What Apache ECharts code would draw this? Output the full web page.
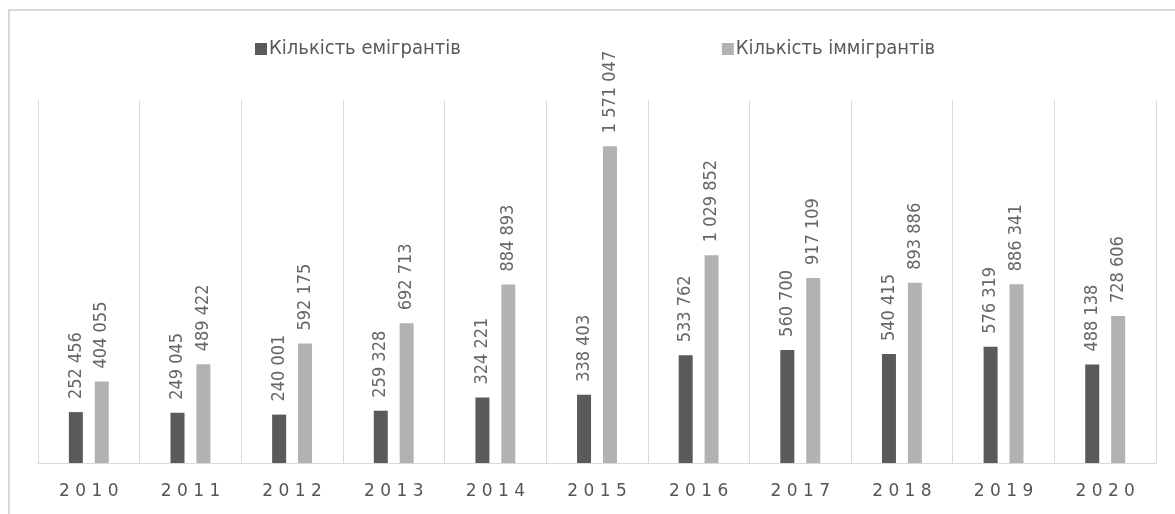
<!DOCTYPE html>
<html>
<head>
<meta charset="utf-8">
<script src="https://cdn.jsdelivr.net/npm/echarts@6/dist/echarts.min.js"></script>
<style>
  html, body { margin: 0; padding: 0; background: #fff; }
  #chart { width: 1175px; height: 514px; }
</style>
</head>
<body>
<div id="chart"></div>
<script>
// Data
const years = ['2010', '2011', '2012', '2013', '2014', '2015', '2016', '2017', '2018', '2019', '2020'];
const emigrants = [252456, 249045, 240001, 259328, 324221, 338403, 533762, 560700, 540415, 576319, 488138];
const immigrants = [404055, 489422, 592175, 692713, 884893, 1571047, 1029852, 917109, 893886, 886341, 728606];
const seriesNames = ['Кількість емігрантів', 'Кількість іммігрантів'];

const DARK = '#5a5a5a';
const LIGHT = '#b2b2b2';
const TEXT = '#595959';

// "1571047" -> "1 571 047"
const fmtNum = (v) => String(v).replace(/\B(?=(\d{3})+(?!\d))/g, ' ');

const chart = echarts.init(document.getElementById('chart'), null, { renderer: 'canvas' });

const barLabel = {
    show: true,
    position: 'top',
    rotate: 90,
    align: 'left',
    verticalAlign: 'middle',
    distance: 13,
    color: '#666',
    fontFamily: 'DejaVu Sans Condensed',
    fontSize: 18,
    formatter: (p) => fmtNum(p.value)
};

const option = {
    backgroundColor: '#fff',
    animation: false,
    graphic: [{
        type: 'rect',
        shape: { x: 9, y: 10, width: 1200, height: 600 },
        style: { fill: 'none', stroke: '#d9d9d9', lineWidth: 2 },
        silent: true
    }],
    legend: {
        top: 34,
        left: 250,
        itemGap: 261,
        itemWidth: 12,
        itemHeight: 12,
        icon: 'rect',
        textStyle: {
            color: TEXT,
            fontFamily: 'DejaVu Sans Condensed',
            fontSize: 20,
            padding: [0, 0, 0, -3]
        },
        data: seriesNames
    },
    grid: {
        left: 38,
        right: 19,
        top: 100,
        bottom: 51
    },
    xAxis: {
        type: 'category',
        data: years,
        axisLine: { lineStyle: { color: '#d9d9d9', width: 1 } },
        axisTick: { show: false },
        splitLine: { show: true, lineStyle: { color: '#d9d9d9', width: 1 } },
        axisLabel: {
            color: '#555',
            fontFamily: 'DejaVu Sans',
            fontSize: 17,
            margin: 20,
            formatter: (v) => v.split('').join(' ')
        }
    },
    yAxis: {
        type: 'value',
        min: 0,
        max: 1800000,
        show: false,
        splitLine: { show: false }
    },
    series: [
        {
            name: seriesNames[0],
            type: 'bar',
            data: emigrants,
            barWidth: 14,
            barGap: '85%',
            itemStyle: { color: DARK },
            label: barLabel
        },
        {
            name: seriesNames[1],
            type: 'bar',
            data: immigrants,
            barWidth: 14,
            itemStyle: { color: LIGHT },
            label: barLabel
        }
    ]
};

chart.setOption(option);
window.addEventListener('resize', () => chart.resize());
</script>
</body>
</html>
